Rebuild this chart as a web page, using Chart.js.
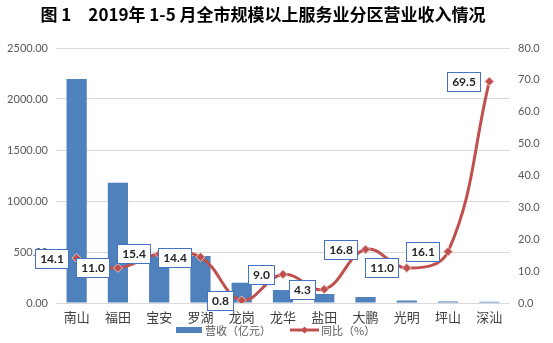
<!DOCTYPE html>
<html>
<head>
<meta charset="utf-8">
<script src="https://cdn.jsdelivr.net/npm/chart.js@4/dist/chart.umd.min.js"></script>
<style>
  html, body { margin: 0; padding: 0; background: #fff; }
  #wrap { width: 553px; height: 343px; position: relative; }
</style>
</head>
<body>
<div id="wrap"><canvas id="c" width="553" height="343"></canvas></div>
<script>
// 各区营业收入（亿元）与同比增速（%）
const districts = ['南山', '福田', '宝安', '罗湖', '龙岗', '龙华', '盐田', '大鹏', '光明', '坪山', '深汕'];
const revenue = [2196, 1178, 472, 460, 199, 127, 88, 59, 24, 15, 12];
const growth = [14.1, 11.0, 15.4, 14.4, 0.8, 9.0, 4.3, 16.8, 11.0, 16.1, 69.5];
const revenueTicks = [0, 500, 1000, 1500, 2000, 2500];
const growthTicks = [0, 10, 20, 30, 40, 50, 60, 70, 80];

const titleText = '图 1　2019年 1-5 月全市规模以上服务业分区营业收入情况';
const seriesNames = ['营收（亿元）', '同比（%）'];

const BLUE = '#4f81bd';
const RED = '#c0504d';
const GRID = '#d9d9d9';
const TICK = '#595959';
const CJK = '"Noto Sans CJK SC", "Noto Sans", sans-serif';
const NUM = 'Lato, "Liberation Sans", sans-serif';

// Boxed value labels placed to the left of each growth point
const growthLabels = {
  id: 'growthLabels',
  afterDatasetsDraw(chart) {
    const ctx = chart.ctx;
    const meta = chart.getDatasetMeta(0);
    ctx.save();
    ctx.font = 'bold 12px ' + NUM;
    ctx.textBaseline = 'middle';
    ctx.textAlign = 'center';
    meta.data.forEach((pt, i) => {
      const txt = growth[i].toFixed(1);
      const w = Math.round(ctx.measureText(txt).width) + 9;
      const h = 19;
      const right = Math.round(pt.x) - 9;
      const top = Math.round(pt.y - h / 2);
      ctx.fillStyle = '#ffffff';
      ctx.fillRect(right - w, top, w, h);
      ctx.strokeStyle = '#4472c4';
      ctx.lineWidth = 1;
      ctx.strokeRect(right - w + 0.5, top + 0.5, w, h);
      ctx.fillStyle = '#262626';
      ctx.fillText(txt, right - w / 2 + 0.5, top + h / 2 + 1);
    });
    ctx.restore();
  }
};

// Title and legend
const frame = {
  id: 'frame',
  afterDraw(chart) {
    const ctx = chart.ctx;
    ctx.save();
    ctx.fillStyle = '#000';
    ctx.font = 'bold 17px ' + CJK;
    ctx.textAlign = 'center';
    ctx.textBaseline = 'middle';
    ctx.fillText(titleText, 263, 15);

    // legend
    ctx.font = '11px ' + CJK;
    ctx.textAlign = 'left';
    ctx.fillStyle = BLUE;
    ctx.fillRect(176, 327, 26, 6);
    ctx.fillStyle = TICK;
    ctx.fillText(seriesNames[0], 205, 331);

    ctx.strokeStyle = RED;
    ctx.lineWidth = 3;
    ctx.beginPath();
    ctx.moveTo(290, 330);
    ctx.lineTo(319, 330);
    ctx.stroke();
    ctx.fillStyle = RED;
    ctx.beginPath();
    ctx.moveTo(304.5, 326.5);
    ctx.lineTo(308, 330);
    ctx.lineTo(304.5, 333.5);
    ctx.lineTo(301, 330);
    ctx.closePath();
    ctx.fill();
    ctx.fillStyle = TICK;
    ctx.fillText(seriesNames[1], 321, 331);
    ctx.restore();
  }
};

new Chart(document.getElementById('c'), {
  data: {
    labels: districts,
    datasets: [
      {
        type: 'line',
        label: seriesNames[1],
        data: growth,
        yAxisID: 'y1',
        borderColor: RED,
        borderWidth: 3,
        tension: 0.4,
        pointStyle: 'rectRot',
        pointRadius: 4.5,
        pointBackgroundColor: RED,
        pointBorderColor: '#e8c4c3',
        pointBorderWidth: 1,
        order: 0
      },
      {
        type: 'bar',
        label: seriesNames[0],
        data: revenue,
        yAxisID: 'y',
        backgroundColor: BLUE,
        barPercentage: 0.49,
        categoryPercentage: 1,
        order: 1
      }
    ]
  },
  options: {
    responsive: false,
    animation: false,
    events: [],
    layout: { padding: { top: 48, left: 0, right: 0, bottom: 0 }, autoPadding: false },
    plugins: {
      legend: { display: false },
      title: { display: false },
      tooltip: { enabled: false }
    },
    scales: {
      x: {
        grid: { display: false, drawTicks: false },
        border: { display: false },
        ticks: { color: '#404040', font: { family: CJK, size: 13 }, padding: 6, maxRotation: 0, autoSkip: false },
        afterFit(s) { s.height = 40; }
      },
      y: {
        position: 'left',
        min: 0,
        max: 2500,
        afterBuildTicks(s) { s.ticks = revenueTicks.map(v => ({ value: v })); },
        grid: { color: GRID, drawTicks: false, lineWidth: 1 },
        border: { display: false },
        ticks: { color: TICK, font: { family: NUM, size: 11 }, padding: 8, callback: v => Number(v).toFixed(2) },
        afterFit(s) { s.width = 56; }
      },
      y1: {
        position: 'right',
        min: 0,
        max: 80,
        afterBuildTicks(s) { s.ticks = growthTicks.map(v => ({ value: v })); },
        grid: { display: false, drawTicks: false },
        border: { display: false },
        ticks: { color: TICK, font: { family: NUM, size: 11 }, padding: 8, callback: v => Number(v).toFixed(1) },
        afterFit(s) { s.width = 43; }
      }
    }
  },
  plugins: [growthLabels, frame]
});
</script>
</body>
</html>
